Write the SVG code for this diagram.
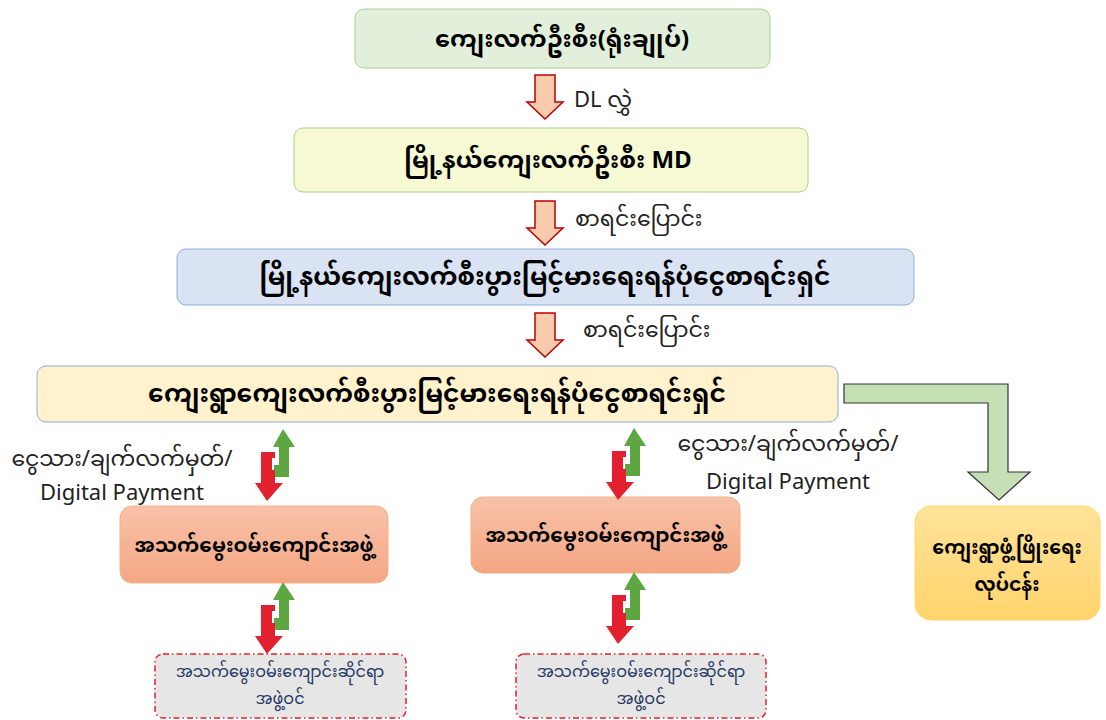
<svg xmlns="http://www.w3.org/2000/svg" width="1106" height="720" viewBox="0 0 1106 720">
<style>
.mm{font-family:"Noto Sans Myanmar","Padauk","Myanmar Text","Noto Sans",sans-serif;}
.t{font-weight:bold;font-size:24px;fill:#000;text-anchor:middle;}
.t2{font-weight:bold;font-size:25px;fill:#000;text-anchor:middle;}
.ts{font-weight:bold;font-size:20px;fill:#000;text-anchor:middle;}
.tr{font-weight:bold;font-size:19px;fill:#000;text-anchor:middle;}
.lab{font-size:22px;fill:#222;}
.sm{font-size:16px;fill:#1f3864;text-anchor:middle;}
.da{fill:#f8cbad;stroke:#c00000;stroke-width:1.5;}
.red{fill:#e3202e;}
.grn{fill:#5ea642;}
.dash{fill:#e7e6e6;stroke:#e3202e;stroke-width:1.5;stroke-dasharray:6 3 1.5 3;}
</style>
<defs>
<linearGradient id="og" x1="0" y1="0" x2="0" y2="1"><stop offset="0" stop-color="#f8c2a8"/><stop offset="1" stop-color="#f4a683"/></linearGradient>
<linearGradient id="yg" x1="0" y1="0" x2="0" y2="1"><stop offset="0" stop-color="#ffe39a"/><stop offset="1" stop-color="#ffd46c"/></linearGradient>
</defs>
<rect width="1106" height="720" fill="#fff"/>
<g id="n1"><rect x="355" y="9" width="415" height="59" rx="9" fill="#e2efda" stroke="#a9d18e"/><text class="mm t" x="562" y="47">ကျေးလက်ဦးစီး(ရုံးချုပ်)</text></g>
<g id="n2"><rect x="294" y="128" width="514" height="64" rx="9" fill="#f6f9d2" stroke="#a9d18e"/><text class="mm t" x="548" y="168">မြို့နယ်ကျေးလက်ဦးစီး MD</text></g>
<g id="n3"><rect x="177" y="249" width="737" height="56" rx="9" fill="#dae3f3" stroke="#8faadc"/><text class="mm t2" x="545" y="285">မြို့နယ်ကျေးလက်စီးပွားမြင့်မားရေးရန်ပုံငွေစာရင်းရှင်</text></g>
<g id="n4"><rect x="37" y="366" width="801" height="56" rx="9" fill="#fff2cc" stroke="#8faadc"/><text class="mm t2" x="437" y="402">ကျေးရွာကျေးလက်စီးပွားမြင့်မားရေးရန်ပုံငွေစာရင်းရှင်</text></g>
<g id="n5"><rect x="120" y="506" width="268" height="77" rx="12" fill="url(#og)" stroke="#f4b183"/><text class="mm ts" x="254" y="552">အသက်မွေးဝမ်းကျောင်းအဖွဲ့</text></g>
<g id="n6"><rect x="471" y="497" width="269" height="76" rx="12" fill="url(#og)" stroke="#f4b183"/><text class="mm ts" x="605" y="542">အသက်မွေးဝမ်းကျောင်းအဖွဲ့</text></g>
<g id="n7"><rect x="915" y="506" width="185" height="114" rx="16" fill="url(#yg)" stroke="#ffd966"/><text class="mm tr" x="1007" y="554">ကျေးရွာဖွံ့ဖြိုးရေး</text><text class="mm tr" x="1007" y="591">လုပ်ငန်း</text></g>
<g id="n8"><rect x="155" y="654" width="251" height="64" rx="8" class="dash"/><text class="mm sm" x="280" y="677">အသက်မွေးဝမ်းကျောင်းဆိုင်ရာ</text><text class="mm sm" x="280" y="704">အဖွဲ့ဝင်</text></g>
<g id="n9"><rect x="516" y="654" width="250" height="64" rx="8" class="dash"/><text class="mm sm" x="641" y="677">အသက်မွေးဝမ်းကျောင်းဆိုင်ရာ</text><text class="mm sm" x="641" y="704">အဖွဲ့ဝင်</text></g>
<g id="connectors">
<path class="da" d="M535,75 H555 V102 H563 L545,119 L527,102 H535 Z"/>
<path class="da" d="M535,201 H555 V228 H563 L545,245 L527,228 H535 Z"/>
<path class="da" d="M535,313 H555 V340 H563 L545,357 L527,340 H535 Z"/>
<path d="M844,384 H1008 V472 H1030 L999,500 L968,472 H988 V403 H844 Z" fill="#c5e0b4" stroke="#333" stroke-width="1.2"/>
<g>
<path class="grn" d="M283,429 L295,447 H289 V477 H274 V465 H279 V447 H273 Z"/>
<path class="red" d="M261,452 H275 V458 H272 V470 H275 V483 H283 L267,501 L255,483 H261 Z"/>
</g>
<g transform="translate(0,153)">
<path class="grn" d="M283,429 L295,447 H289 V477 H274 V465 H279 V447 H273 Z"/>
<path class="red" d="M261,452 H275 V458 H272 V470 H275 V483 H283 L267,501 L255,483 H261 Z"/>
</g>
<g transform="translate(351,-1)">
<path class="grn" d="M283,429 L295,447 H289 V477 H274 V465 H279 V447 H273 Z"/>
<path class="red" d="M261,452 H275 V458 H272 V470 H275 V483 H283 L267,501 L255,483 H261 Z"/>
</g>
<g transform="translate(351,143)">
<path class="grn" d="M283,429 L295,447 H289 V477 H274 V465 H279 V447 H273 Z"/>
<path class="red" d="M261,452 H275 V458 H272 V470 H275 V483 H283 L267,501 L255,483 H261 Z"/>
</g>
</g>
<g id="labels">
<text class="mm lab" x="574" y="107">DL လွှဲ</text>
<text class="mm lab" x="575" y="226">စာရင်းပြောင်း</text>
<text class="mm lab" x="583" y="337">စာရင်းပြောင်း</text>
<text class="mm lab" x="122" y="466" text-anchor="middle">ငွေသား/ချက်လက်မှတ်/</text>
<text class="mm lab" x="122" y="500" text-anchor="middle">Digital Payment</text>
<text class="mm lab" x="788" y="451" text-anchor="middle">ငွေသား/ချက်လက်မှတ်/</text>
<text class="mm lab" x="788" y="489" text-anchor="middle">Digital Payment</text>
</g>
</svg>
